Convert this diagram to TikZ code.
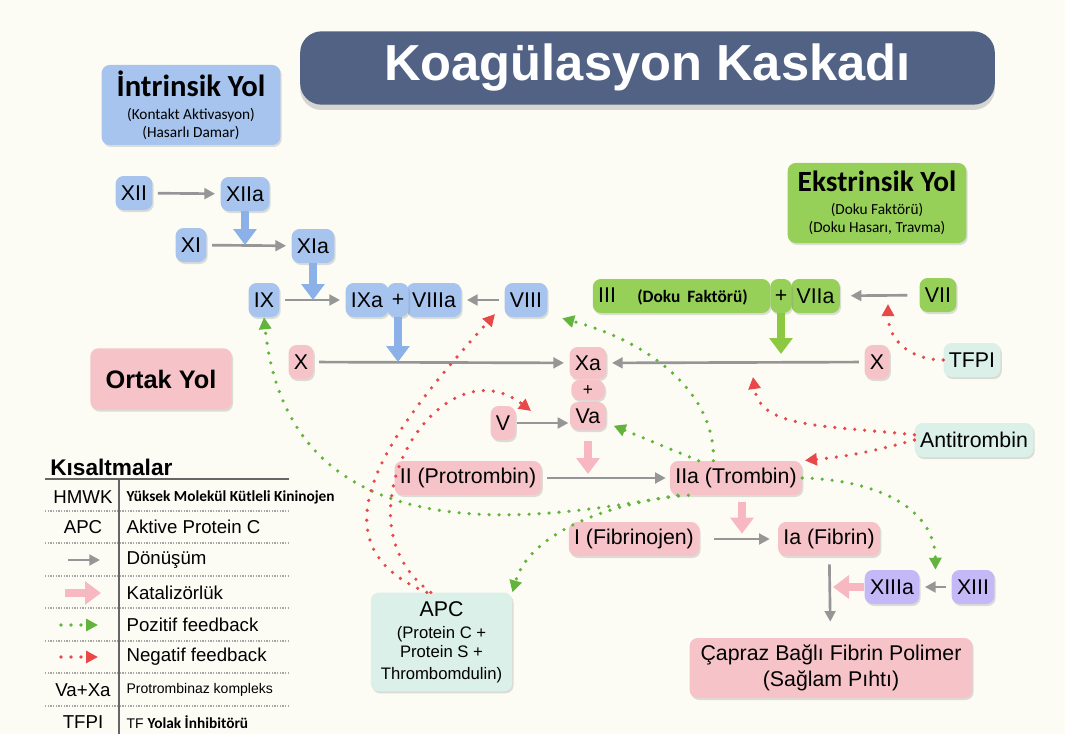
\documentclass[tikz,border=0pt]{standalone}
\usepackage{fontspec}
\setmainfont{Liberation Sans}
\newfontfamily\carl{Carlito}
\usetikzlibrary{arrows.meta,shadows,calc}

\definecolor{bgcream}{RGB}{252,252,245}
\definecolor{ttlfill}{RGB}{81,98,133}
\definecolor{blufill}{RGB}{166,196,238}
\definecolor{grnfill}{RGB}{150,208,88}
\definecolor{pnkfill}{RGB}{246,196,200}
\definecolor{mntfill}{RGB}{218,240,233}
\definecolor{purfill}{RGB}{196,184,246}
\definecolor{convgrey}{RGB}{150,150,150}
\definecolor{catblue}{RGB}{140,176,232}
\definecolor{catgrn}{RGB}{140,200,66}
\definecolor{catpnk}{RGB}{248,184,194}
\definecolor{fbgrn}{RGB}{98,180,60}
\definecolor{fbred}{RGB}{232,72,72}

\tikzset{
  shd/.style={drop shadow={shadow xshift=1pt, shadow yshift=-1.5pt, opacity=0.25}},
  fac/.style={shd, rounded corners=6pt, minimum height=25.5pt, inner xsep=4pt, inner ysep=0pt, font=\fontsize{16}{19}\selectfont},
  bluf/.style={fac, fill=blufill},
  grnf/.style={fac, fill=grnfill},
  pnkf/.style={fac, fill=pnkfill},
  mntf/.style={fac, fill=mntfill},
  purf/.style={fac, fill=purfill},
  plusf/.style={minimum width=16pt, inner xsep=1pt},
  hdr/.style={shd, rounded corners=6pt, minimum width=134pt, minimum height=60pt, align=center, inner sep=2pt, font=\carl\fontsize{11.5}{13.5}\selectfont},
  ttl/.style={drop shadow={shadow xshift=0pt, shadow yshift=-4pt, opacity=0.3}, fill=ttlfill, text=white, rounded corners=16pt, minimum width=521pt, minimum height=55pt, font=\fontsize{38}{44}\selectfont\bfseries},
  conv/.style={draw=convgrey, line width=2pt, -{Triangle[length=8pt,width=8pt]}, shorten <=4pt, shorten >=4pt},
  catb/.style={draw=catblue, line width=6.5pt, -{Triangle[length=12pt,width=17pt]}},
  catg/.style={draw=catgrn, line width=6.5pt, -{Triangle[length=12pt,width=17pt]}},
  catp/.style={draw=catpnk, line width=6.5pt, -{Triangle[length=12pt,width=17pt]}},
  posfb/.style={draw=fbgrn, line width=2.7pt, line cap=round, dash pattern=on 0pt off 7.5pt, -{Triangle[length=9pt,width=9pt]}},
  negfb/.style={draw=fbred, line width=2.7pt, line cap=round, dash pattern=on 0pt off 7.5pt, -{Triangle[length=9pt,width=9pt]}},
  lgk/.style={font=\fontsize{14}{16}\selectfont, inner sep=1pt},
  lgv/.style={anchor=west, font=\fontsize{14}{16}\selectfont, inner sep=1pt},
  lgrule/.style={draw=black!60, line width=1.5pt},
  lgsep/.style={draw=black!35, line width=0.8pt, dash pattern=on 1pt off 1pt}
}

\begin{document}
\begin{tikzpicture}[x=0.75pt,y=0.75pt,yscale=-1,xscale=1]
%set diagram size to 1065 x 734
\fill [bgcream] (0,0) rectangle (1065,734);

% Title
\draw (647.5,68) node [ttl] (title) {Koagülasyon Kaskadı};

% Pathway boxes
\draw (191,105) node [hdr, fill=blufill] (intr) {{\fontsize{23}{26}\selectfont\bfseries İntrinsik Yol}\\[4pt](Kontakt Aktivasyon)\\(Hasarlı Damar)};
\draw (877,203) node [hdr, fill=grnfill] (ekst) {{\fontsize{22}{25}\selectfont\bfseries Ekstrinsik Yol}\\[4pt](Doku Faktörü)\\(Doku Hasarı, Travma)};
\draw (161,379) node [shd, fill=pnkfill, rounded corners=6pt, minimum width=106pt, minimum height=46pt, font=\fontsize{19}{22}\selectfont\bfseries] (ortak) {Ortak Yol};

% Intrinsic factors
\draw (134,193) node [bluf] (xii) {XII};
\draw (245,194) node [bluf] (xiia) {XIIa};
\draw (191,245) node [bluf] (xi) {XI};
\draw (313,246) node [bluf] (xia) {XIa};
\draw (264,300) node [bluf] (ix) {IX};
\draw (367,300) node [bluf] (ixa) {IXa};
\draw (434,300) node [bluf] (viiia) {VIIIa};
\draw (398,300) node [bluf, plusf] (plus1) {+};
\draw (526,300) node [bluf] (viii) {VIII};

% Extrinsic factors
\draw (681.5,296) node [grnf, text width=125pt, align=left] (iii) {III\hspace{16pt}{\carl\bfseries\fontsize{13}{15}\selectfont (Doku Faktörü)}};
\draw (815.5,296) node [grnf] (viia) {VIIa};
\draw (781,296) node [grnf, plusf] (plus2) {+};
\draw (938,295) node [grnf] (vii) {VII};

% Common pathway
\draw (301,362) node [pnkf] (xl) {X};
\draw (588,363) node [pnkf, minimum width=27pt, minimum height=24pt] (xa) {Xa};
\draw (588,416) node [pnkf, minimum width=27pt, minimum height=21pt] (va) {Va};
\draw (588,390) node [pnkf, minimum width=25pt, minimum height=15pt, font=\fontsize{13}{15}\selectfont] (plus3) {+};
\draw (877,362) node [pnkf] (xr) {X};
\draw (972,360) node [mntf] (tfpi) {TFPI};
\draw (503,423) node [pnkf] (v) {V};
\draw (974,440) node [mntf] (at) {Antitrombin};
\draw (468,478) node [pnkf] (ii) {II (Protrombin)};
\draw (736,478) node [pnkf] (iia) {IIa (Trombin)};
\draw (634,539) node [pnkf] (i) {I (Fibrinojen)};
\draw (829,539) node [pnkf] (ia) {Ia (Fibrin)};
\draw (892,587) node [purf] (xiiia) {XIIIa};
\draw (973,587) node [purf] (xiii) {XIII};
\draw (441.5,642) node [shd, fill=mntfill, rounded corners=6pt, minimum width=106pt, minimum height=74pt, align=center, inner sep=1pt, font=\fontsize{12.5}{14.5}\selectfont] (apc) {{\fontsize{16}{18}\selectfont APC}\\[2pt](Protein C +\\Protein S +\\[2pt]Thrombomdulin)};
\draw (831,668) node [pnkf, minimum width=212pt, minimum height=45pt, align=center, font=\fontsize{16}{19.5}\selectfont] (cbf) {Çapraz Bağlı Fibrin Polimer\\(Sağlam Pıhtı)};

%Straight Lines
\draw [conv] (xii) -- (xiia);
\draw [conv] (xi) -- (xia);
\draw [conv] (ix) -- (ixa);
\draw [conv] (viii) -- (viiia);
\draw [conv, shorten <=9pt, shorten >=8pt] (vii) -- (viia);
\draw [conv] (xl) -- (xa);
\draw [conv] (xr) -- (xa);
\draw [conv, shorten <=1pt, shorten >=1pt] (v) -- (v -| va.west);
\draw [conv, shorten >=3pt] (ii) -- (iia);
\draw [conv, shorten <=11pt, shorten >=6pt] (i) -- (ia);
\draw [conv] (xiii) -- (xiiia);
\draw [conv, shorten <=6pt, shorten >=12pt] (ia) -- (cbf);

% Catalysis
\draw [catb] (xiia.south) -- (xiia.south |- xi.center);
\draw [catb] (xia.south) -- (xia.south |- ix.center);
\draw [catb] (plus1.south) -- (plus1.south |- xl.center);
\draw [catg, shorten >=6pt] (plus2.south) -- (plus2.south |- xr.center);
\draw [catp, shorten <=8pt, shorten >=3pt] (va.south) -- (va.south |- ii.center);
\draw [catp, shorten <=5pt, shorten >=4pt] ([xshift=4.5pt]iia.south) -- ([xshift=4.5pt]iia.south |- i.center);
\draw [catp, shorten >=3pt] (xiiia.west) -- (xiiia.west -| ia.south);

% Feedback
\coordinate (r1e) at (495,314);
\coordinate (r2e) at (531,411);
\coordinate (r4e) at (753,377);
\coordinate (r5e) at (888,304);
\draw [posfb] ([xshift=6pt]iia.south west) .. controls (560,515) and (290,570) .. (ix.south);
\draw [posfb] ([xshift=14pt]iia.south west) .. controls (620,500) and (530,530) .. (apc.north east);
\draw [posfb, shorten >=3pt] ([xshift=-17pt]iia.north) .. controls (716,400) and (660,345) .. ([xshift=8pt]viii.south east);
\draw [posfb, shorten >=6pt] ([xshift=-28pt]iia.north) -- (va.-20);
\draw [posfb] (iia.east) .. controls (880,480) and (935,510) .. ($(xiiia.north east)!0.5!(xiii.north west)$);
\draw [negfb] ([xshift=-11pt]apc.north) .. controls (300,540) and (400,420) .. (r1e);
\draw [negfb] ([xshift=-8pt]apc.north) .. controls (330,520) and (440,340) .. (r2e);
\draw [negfb, shorten >=2pt] (at.west) to [bend right=5] (iia.north east);
\draw [negfb] (at.175) .. controls (820,425) and (760,428) .. (r4e);
\draw [negfb] (tfpi.west) .. controls (910,360) and (888,340) .. (r5e);

% Legend
\draw (50,467) node [anchor=west, inner sep=0pt, font=\fontsize{17}{20}\selectfont\bfseries] (lgt) {Kısaltmalar};
\draw [lgrule] (45,479) -- (289,479);
\draw [lgrule] (119,479) -- (119,734);
\draw [lgsep] (45,511) -- (289,511);
\draw [lgsep] (45,543) -- (289,543);
\draw [lgsep] (45,576) -- (289,576);
\draw [lgsep] (45,608) -- (289,608);
\draw [lgsep] (45,641) -- (289,641);
\draw [lgsep] (45,673) -- (289,673);
\draw [lgsep] (45,706) -- (289,706);

\draw (83,497) node [lgk] (k1) {HMWK};
\draw (125,497) node [lgv] (v1) {{\carl\bfseries\fontsize{11.5}{13}\selectfont Yüksek Molekül Kütleli Kininojen}};
\draw (83,527) node [lgk] (k2) {APC};
\draw (125,527) node [lgv] (v2) {Aktive Protein C};
\coordinate (a3s) at (68,560);
\coordinate (a3e) at (100,560);
\draw [conv, shorten <=0pt, shorten >=0pt] (a3s) -- (a3e);
\draw (125,560) node [lgv] (v3) {Dönüşüm};
\coordinate (a4s) at (65,593);
\coordinate (a4e) at (101,593);
\draw [catp] (a4s) -- (a4e);
\draw (125,593) node [lgv] (v4) {Katalizörlük};
\coordinate (a5s) at (61,625);
\coordinate (a5e) at (98,625);
\draw [posfb] (a5s) -- (a5e);
\draw (125,625) node [lgv] (v5) {Pozitif feedback};
\coordinate (a6s) at (61,657);
\coordinate (a6e) at (98,657);
\draw [negfb] (a6s) -- (a6e);
\draw (125,657) node [lgv] (v6) {Negatif feedback};
\draw (83,690) node [lgk] (k7) {Va+Xa};
\draw (125,690) node [lgv, font=\fontsize{10.5}{12}\selectfont] (v7) {Protrombinaz kompleks};
\draw (83,722) node [lgk] (k8) {TFPI};
\draw (125,722) node [lgv, font=\fontsize{10.5}{12}\selectfont] (v8) {TF {\carl\bfseries\fontsize{11.5}{13}\selectfont Yolak İnhibitörü}};

\end{tikzpicture}
\end{document}
